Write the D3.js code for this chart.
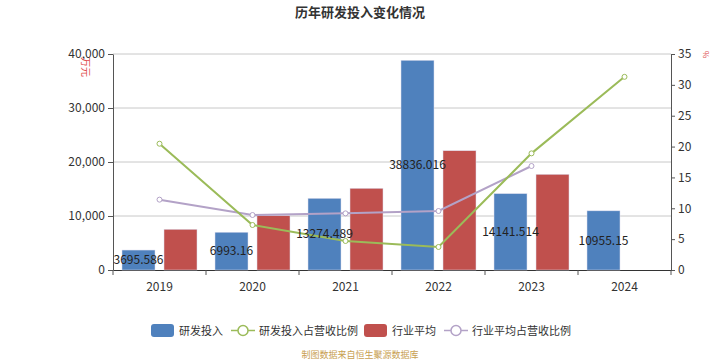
<!DOCTYPE html>
<html><head><meta charset="utf-8">
<script src="https://cdn.jsdelivr.net/npm/d3@7/dist/d3.min.js"></script>
<style>body{margin:0;background:#fff;}svg{display:block;font-family:"Noto Sans CJK SC","Noto Sans",sans-serif;}</style>
</head><body><svg id="c" width="720" height="360"></svg>
<script>
const years = ["2019","2020","2021","2022","2023","2024"];
const rdInvest = [3695.586, 6993.16, 13274.489, 38836.016, 14141.514, 10955.15];
const rdRatio = [20.46, 7.29, 4.70, 3.73, 18.9, 31.3];
const industryAvg = [7540, 10050, 15130, 22090, 17720, null];
const industryRatio = [11.4, 8.91, 9.18, 9.56, 16.85, null];
const leftTicks = [0, 10000, 20000, 30000, 40000];
const rightTicks = [0,5,10,15,20,25,30,35];
const colors = {blue:"#4f81bd", red:"#c0504d", green:"#9bbb59", purple:"#b3a2c7"};

const svg = d3.select("#c");
const L=113, R=671, T=54, B=270;
const x = d3.scaleBand().domain(years).range([L,R]);
const yL = d3.scaleLinear().domain([0,40000]).range([B,T]);
const yR = d3.scaleLinear().domain([0,35]).range([B,T]);

svg.append("text").attr("x",360).attr("y",17).attr("text-anchor","middle")
  .attr("font-size",13).attr("font-weight","bold").attr("fill","#333").text("历年研发投入变化情况");

// grid
svg.append("g").selectAll("line").data(leftTicks.slice(1)).join("line")
  .attr("x1",L).attr("x2",R).attr("y1",d=>yL(d)).attr("y2",d=>yL(d))
  .attr("stroke","#c8c8c8").attr("stroke-width",1);

// axes
const axL = svg.append("g").attr("transform",`translate(${L},0)`)
  .call(d3.axisLeft(yL).tickValues(leftTicks).tickFormat(d3.format(",")).tickSize(5).tickSizeOuter(0));
const axR = svg.append("g").attr("transform",`translate(${R},0)`)
  .call(d3.axisRight(yR).tickValues(rightTicks).tickSize(4).tickSizeOuter(0));
const axB = svg.append("g").attr("transform",`translate(0,${B})`)
  .call(d3.axisBottom(x).tickSize(5).tickSizeOuter(0));
axB.selectAll(".tick line").attr("transform",`translate(${-x.bandwidth()/2},0)`);
axB.append("line").attr("x1",R).attr("x2",R).attr("y1",0).attr("y2",5).attr("stroke","#333");
[axL,axR,axB].forEach(a=>{
  a.selectAll("text").attr("font-size",12).attr("fill","#333").attr("font-family","'Noto Sans CJK SC',sans-serif");
  a.selectAll("path,line").attr("stroke","#555");
});
axB.select("path").attr("stroke","#333");
axB.selectAll("text").attr("dy","1.1em");

// unit labels
svg.append("text").attr("transform","translate(82,57) rotate(90)").attr("font-size",10).attr("fill","#e05050").text("万元");
svg.append("text").attr("transform","translate(703,51) rotate(90)").attr("font-size",8).attr("fill","#e05050").text("%");

// bars
const bw = 33, gap = 9;
const band = x.bandwidth();
svg.append("g").selectAll("rect").data(rdInvest).join("rect")
  .attr("x",(d,i)=>x(years[i])+band/2-gap/2-bw).attr("width",bw)
  .attr("y",d=>yL(d)).attr("height",d=>B-yL(d))
  .attr("fill",colors.blue).attr("stroke","#dde").attr("stroke-width",0.5);
svg.append("g").selectAll("rect").data(industryAvg.map((v,i)=>[v,i]).filter(d=>d[0]!=null)).join("rect")
  .attr("x",d=>x(years[d[1]])+band/2+gap/2).attr("width",bw)
  .attr("y",d=>yL(d[0])).attr("height",d=>B-yL(d[0]))
  .attr("fill",colors.red).attr("stroke","#dde").attr("stroke-width",0.5);

// lines
function drawLine(vals,color){
  const pts = vals.map((v,i)=>[v,i]).filter(d=>d[0]!=null);
  const line = d3.line().x(d=>x(years[d[1]])+band/2).y(d=>yR(d[0]));
  svg.append("path").datum(pts).attr("d",line).attr("fill","none").attr("stroke",color).attr("stroke-width",2);
  svg.append("g").selectAll("circle").data(pts).join("circle")
    .attr("cx",d=>x(years[d[1]])+band/2).attr("cy",d=>yR(d[0])).attr("r",2.5)
    .attr("fill","#fff").attr("stroke",color).attr("stroke-width",1);
}
drawLine(industryRatio, colors.purple);
drawLine(rdRatio, colors.green);

// bar labels
svg.append("g").selectAll("text").data(rdInvest).join("text")
  .attr("x",(d,i)=>x(years[i])+band/2-gap/2-bw/2)
  .attr("y",d=>(yL(d)+B)/2).attr("dy","0.35em").attr("text-anchor","middle")
  .attr("font-size",12).attr("fill","#222").text(d=>String(d));

// legend
const lg = svg.append("g").attr("font-size",11).attr("fill","#333");
function rectItem(x0,color,label){
  lg.append("rect").attr("x",x0).attr("y",324).attr("width",23).attr("height",13).attr("rx",3).attr("fill",color);
  lg.append("text").attr("x",x0+28).attr("y",334.5).attr("fill","#333").text(label);
}
function lineItem(x0,color,label){
  lg.append("line").attr("x1",x0).attr("x2",x0+24).attr("y1",330.5).attr("y2",330.5).attr("stroke",color).attr("stroke-width",1.5);
  lg.append("circle").attr("cx",x0+12).attr("cy",330.5).attr("r",5).attr("fill","#fff").attr("stroke",color).attr("stroke-width",1.5);
  lg.append("text").attr("x",x0+28).attr("y",334.5).attr("fill","#333").text(label);
}
rectItem(151,colors.blue,"研发投入");
lineItem(231,colors.green,"研发投入占营收比例");
rectItem(364,colors.red,"行业平均");
lineItem(444,colors.purple,"行业平均占营收比例");

svg.append("text").attr("x",360).attr("y",358).attr("text-anchor","middle").attr("font-size",9)
  .attr("fill","#c8a050").text("制图数据来自恒生聚源数据库");
</script></body></html>
